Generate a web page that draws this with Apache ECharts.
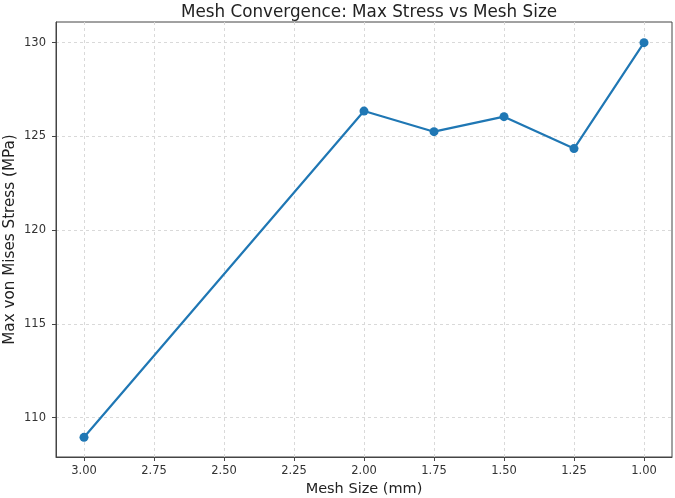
<!DOCTYPE html>
<html>
<head>
<meta charset="utf-8">
<script src="https://cdn.jsdelivr.net/npm/echarts@6/dist/echarts.min.js"></script>
<style>html,body{margin:0;padding:0;background:#fff}#c{width:675px;height:498px}</style>
</head>
<body>
<div id="c"></div>
<script>
const meshSizes = [3.00, 2.00, 1.75, 1.50, 1.25, 1.00];
const maxStress = [108.95, 126.35, 125.25, 126.05, 124.35, 130.0];
const xTicks = [3.00, 2.75, 2.50, 2.25, 2.00, 1.75, 1.50, 1.25, 1.00];
const yTicks = [110, 115, 120, 125, 130];

const font = 'DejaVu Sans';
const gridLine = {color: '#d9d9d9', type: [3, 3], width: 1};
const hidden = {axisLine: {show: false}, axisTick: {show: false}, axisLabel: {show: false}};
const chart = echarts.init(document.getElementById('c'));
chart.setOption({
  animation: false,
  title: {
    text: 'Mesh Convergence: Max Stress vs Mesh Size',
    left: 364, top: -1, textAlign: 'center',
    textStyle: {fontFamily: font, fontSize: 16.8, fontWeight: 'normal', color: '#222'}
  },
  grid: [
    {left: 56, right: 3, top: 22, bottom: 41, show: true, borderColor: '#444', borderWidth: 1, outerBoundsMode: 'none', containLabel: false},
    {left: 84, right: 31, top: 22, bottom: 41, outerBoundsMode: 'none', containLabel: false},
    {left: 56, right: 3, top: 42.6, bottom: 80.4, outerBoundsMode: 'none', containLabel: false}
  ],
  xAxis: [
    {
      gridIndex: 0, type: 'value', inverse: true, min: 0.9, max: 3.1,
      name: 'Mesh Size (mm)', nameLocation: 'middle', nameGap: 25, nameMoveOverlap: false,
      nameTextStyle: {fontFamily: font, fontSize: 14.5, color: '#222'},
      axisLine: {show: true, onZero: false, lineStyle: {color: '#444'}},
      axisTick: {show: true, length: 4, customValues: xTicks, lineStyle: {color: '#444'}},
      axisLabel: {customValues: xTicks, formatter: v => v.toFixed(2), fontFamily: font, fontSize: 11.5, color: '#333', margin: 8},
      splitLine: {show: false}
    },
    Object.assign({gridIndex: 1, type: 'value', inverse: true, min: 1, max: 3, interval: 0.25,
      splitLine: {show: true, lineStyle: gridLine}}, hidden),
    Object.assign({gridIndex: 2, type: 'value', min: 0, max: 1, splitLine: {show: false}}, hidden)
  ],
  yAxis: [
    {
      gridIndex: 0, type: 'value', min: 107.9, max: 131.1,
      name: 'Max von Mises Stress (MPa)', nameLocation: 'middle', nameGap: 38, nameMoveOverlap: false,
      nameTextStyle: {fontFamily: font, fontSize: 15.2, color: '#222'},
      axisLine: {show: true, onZero: false, lineStyle: {color: '#444'}},
      axisTick: {show: true, length: 4, customValues: yTicks, lineStyle: {color: '#444'}},
      axisLabel: {customValues: yTicks, formatter: v => String(v), fontFamily: font, fontSize: 11.5, color: '#333', margin: 10},
      splitLine: {show: false}
    },
    Object.assign({gridIndex: 1, type: 'value', min: 0, max: 1, splitLine: {show: false}}, hidden),
    Object.assign({gridIndex: 2, type: 'value', min: 110, max: 130, interval: 5,
      splitLine: {show: true, lineStyle: gridLine}}, hidden)
  ],
  series: [
    {
      type: 'line', xAxisIndex: 0, yAxisIndex: 0, z: 3,
      data: meshSizes.map((x, i) => [x, maxStress[i]]),
      symbol: 'circle', symbolSize: 9,
      lineStyle: {color: '#1f77b4', width: 2.2},
      itemStyle: {color: '#1f77b4', borderWidth: 0}
    }
  ]
});
</script>
</body>
</html>
